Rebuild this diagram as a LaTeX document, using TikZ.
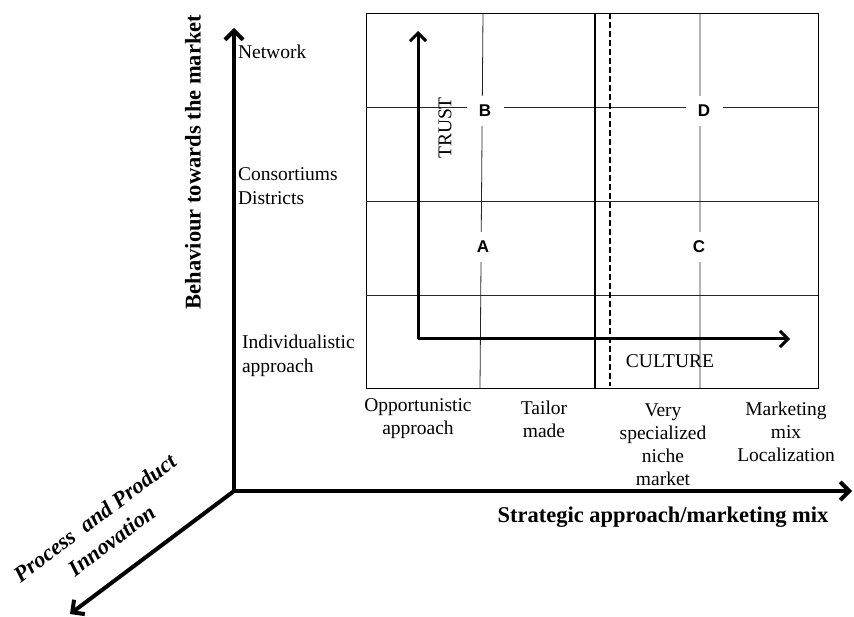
\documentclass[tikz,border=0pt]{standalone}
\usepackage{fontspec}
\setmainfont{Liberation Serif}
\newfontfamily\labfont{Liberation Sans}
\usetikzlibrary{arrows.meta}

\tikzset{
  bigaxis/.style={line width=4pt,-{Straight Barb[length=9pt,width=18pt]}},
  smallaxis/.style={line width=3pt,-{Straight Barb[length=8pt,width=16pt]}},
  gridline/.style={line width=0.8pt,black!85},
  quad/.style={fill=white,inner sep=0pt,minimum width=37pt,minimum height=30pt,
    font=\labfont\bfseries\fontsize{17}{19}\selectfont},
  axislabel/.style={font=\bfseries\fontsize{22.5}{28}\selectfont}
}

\begin{document}
\begin{tikzpicture}[x=1pt,y=-1pt,
    every node/.style={font=\fontsize{19.5}{24}\selectfont}]
  \useasboundingbox (0,0) rectangle (854,617);
  % grid of the matrix
  \draw[line width=0.8pt] (366,13) rectangle (818,388);
  \draw[gridline] (366,107) -- (818,107) (366,201) -- (818,201)
    (366,295) -- (818,295);
  \draw[gridline] (483,13) -- (480,388) (700,13) -- (700,388);
  \draw[line width=2pt] (595,13) -- (595,388);
  \draw[line width=2pt,dash pattern=on 6pt off 3pt] (610,13) -- (610,386);
  % trust / culture
  \coordinate (o) at (418,339);
  \coordinate (t) at (418,31);
  \coordinate (c) at (790,339);
  \draw[smallaxis] (o) -- (t);
  \draw[smallaxis] (o) -- (c);
  \node[rotate=90] (TR) at (445,128) {TRUST};
  \node (CU) at (670,361) {CULTURE};
  \node[quad] (QB) at (485,111) {B};
  \node[quad] (QD) at (704,111) {D};
  \node[quad] (QA) at (483,247) {A};
  \node[quad] (QC) at (699,247) {C};
  % main axes
  \coordinate (O) at (234,491);
  \coordinate (Y) at (234,28);
  \coordinate (X) at (852,491);
  \coordinate (Z) at (70,614);
  \draw[bigaxis] (O) -- (Y);
  \draw[bigaxis] (O) -- (X);
  \draw[bigaxis] (O) -- (Z);
  \node[anchor=west] (R0) at (234.5,52) {Network};
  \node[anchor=west,align=left] (R1) at (234.5,186) {Consortiums\\Districts};
  \node[anchor=west,align=left] (R2) at (238.5,356) {Individualistic\\approach};
  \node[align=center,font=\fontsize{19.5}{23}\selectfont] (C0) at (418,419)
    {Opportunistic\\approach};
  \node[align=center,font=\fontsize{19.5}{23}\selectfont] (C1) at (544,419)
    {Tailor\\made};
  \node[align=center,font=\fontsize{19.5}{23}\selectfont] (C2) at (663,445)
    {Very\\specialized\\niche\\market};
  \node[align=center,font=\fontsize{19.5}{23}\selectfont] (C3) at (786,432)
    {Marketing\\mix\\Localization};
  \node[axislabel,rotate=90] (LY) at (193,162) {Behaviour towards the market};
  \node[axislabel] (LX) at (663,517) {Strategic approach/marketing mix};
  \node[axislabel,font=\bfseries\itshape\fontsize{22.5}{28}\selectfont,
    rotate=37,align=center] (LZ) at (103,529) {Process \ and Product\\Innovation};
\end{tikzpicture}
\end{document}
